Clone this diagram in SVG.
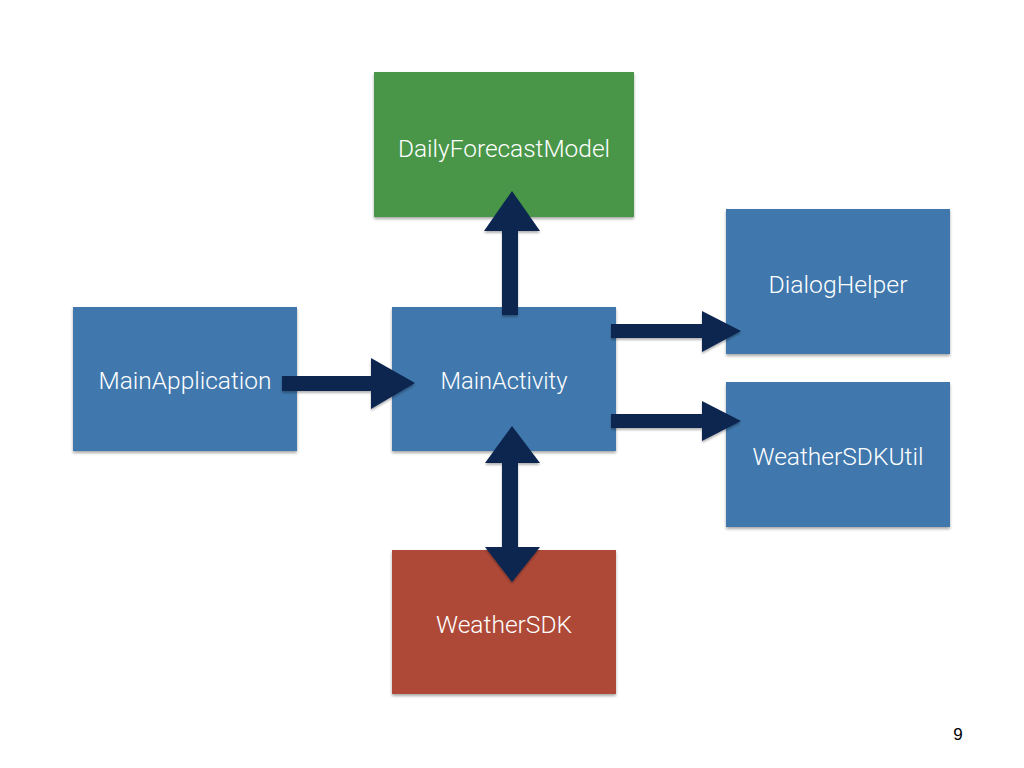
<svg xmlns="http://www.w3.org/2000/svg" width="1024" height="768" viewBox="0 0 1024 768">
<defs>
<style>
.box{stroke:none;filter:url(#sh)}
.blue{fill:#3f78ad}
.green{fill:#4a9648}
.red{fill:#ae4a37}
.lbl{font-family:Roboto,"Liberation Sans",Arial,sans-serif;font-weight:300;font-size:23px;fill:#ffffff;text-anchor:middle}
.arr{fill:#0c2550;filter:url(#sh2)}
</style>
<filter id="sh" x="-10%" y="-10%" width="120%" height="130%">
<feGaussianBlur in="SourceAlpha" stdDeviation="1.5"/>
<feOffset dx="0" dy="2" result="b"/>
<feComponentTransfer><feFuncA type="linear" slope="0.35"/></feComponentTransfer>
<feMerge><feMergeNode/><feMergeNode in="SourceGraphic"/></feMerge>
</filter>
<filter id="sh2" x="-20%" y="-20%" width="140%" height="140%">
<feGaussianBlur in="SourceAlpha" stdDeviation="1.2"/>
<feOffset dx="0" dy="2" result="b"/>
<feComponentTransfer><feFuncA type="linear" slope="0.3"/></feComponentTransfer>
<feMerge><feMergeNode/><feMergeNode in="SourceGraphic"/></feMerge>
</filter>
</defs>
<rect width="1024" height="768" fill="#ffffff"/>
<g id="DailyForecastModel"><rect class="box green" x="374" y="72" width="260" height="145"/><text class="lbl" x="504" y="157" textLength="212" lengthAdjust="spacingAndGlyphs">DailyForecastModel</text></g>
<g id="DialogHelper"><rect class="box blue" x="726" y="209" width="224" height="145"/><text class="lbl" x="838" y="293" textLength="139" lengthAdjust="spacingAndGlyphs">DialogHelper</text></g>
<g id="MainApplication"><rect class="box blue" x="73" y="307" width="224" height="144"/><text class="lbl" x="185" y="389" textLength="173" lengthAdjust="spacingAndGlyphs">MainApplication</text></g>
<g id="MainActivity"><rect class="box blue" x="392" y="307" width="224" height="144"/><text class="lbl" x="504" y="389" textLength="127" lengthAdjust="spacingAndGlyphs">MainActivity</text></g>
<g id="WeatherSDKUtil"><rect class="box blue" x="726" y="382" width="224" height="145"/><text class="lbl" x="838" y="465" textLength="171" lengthAdjust="spacingAndGlyphs">WeatherSDKUtil</text></g>
<g id="WeatherSDK"><rect class="box red" x="392" y="550" width="224" height="144"/><text class="lbl" x="504" y="633" textLength="136" lengthAdjust="spacingAndGlyphs">WeatherSDK</text></g>
<g id="connectors">
<polygon class="arr" points="282,376 371,376 371,358 415,383 371,409 371,391 282,391"/>
<polygon class="arr" points="502,315 502,231 484,231 512,191 540,231 518,231 518,315"/>
<polygon class="arr" points="512,426 540,463 518,463 518,547 540,547 512,582 485,547 502,547 502,463 485,463"/>
<polygon class="arr" points="611,324 702,324 702,311 741,331 702,352 702,338 611,338"/>
<polygon class="arr" points="611,414 702,414 702,401 741,421 702,441 702,428 611,428"/>
</g>
<text x="958" y="740" font-family="Liberation Sans,Arial,sans-serif" font-size="17" fill="#000000" text-anchor="middle">9</text>
</svg>
